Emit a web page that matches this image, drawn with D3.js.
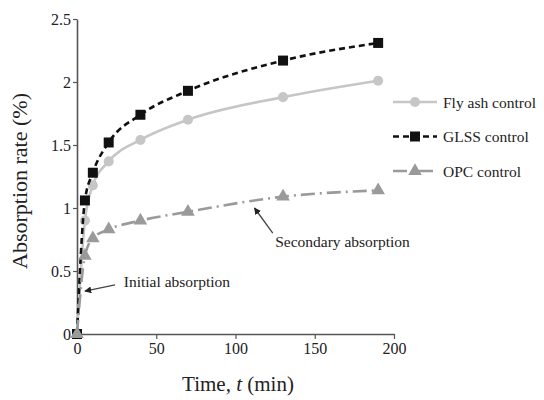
<!DOCTYPE html>
<meta charset="utf-8">
<style>
  body { margin: 0; background: #fff; }
  text { font-family: "Liberation Serif", "Times New Roman", serif; fill: #222; }
</style>
<svg id="chart" width="544" height="400"></svg>
<script src="https://d3js.org/d3.v7.min.js"></script>
<script>

// Data
var time = [0, 5, 10, 20, 40, 70, 130, 190];
var flyAsh = [0, 0.90, 1.18, 1.37, 1.54, 1.70, 1.88, 2.01];
var glss = [0, 1.06, 1.28, 1.52, 1.74, 1.93, 2.17, 2.31];
var opc = [0, 0.62, 0.76, 0.83, 0.90, 0.97, 1.09, 1.14];
var seriesNames = ["Fly ash control", "GLSS control", "OPC control"];
var xTicks = [0, 50, 100, 150, 200];
var yTicks = [0, 0.5, 1, 1.5, 2, 2.5];

var svg = d3.select("#chart");

var x = d3.scaleLinear().domain([0, 200]).range([77, 394]);
var y = d3.scaleLinear().domain([0, 2.5]).range([334, 19]);

var series = [
  { name: seriesNames[0], values: flyAsh, color: "#c6c6c6", dash: null, marker: "circle" },
  { name: seriesNames[1], values: glss, color: "#111", dash: "6,4", marker: "square" },
  { name: seriesNames[2], values: opc, color: "#9a9a9a", dash: "14,5,2,5", marker: "triangle" }
];

var symbols = {
  circle: d3.symbol().type(d3.symbolCircle).size(80),
  square: d3.symbol().type(d3.symbolSquare).size(100),
  triangle: d3.symbol().type(d3.symbolTriangle).size(80)
};

// axes
var xAxis = svg.append("g")
  .attr("transform", "translate(0," + y(0) + ")")
  .call(d3.axisBottom(x).tickValues(xTicks).tickSize(5).tickSizeOuter(0).tickPadding(4));
var yAxis = svg.append("g")
  .attr("transform", "translate(" + x(0) + ",0)")
  .call(d3.axisLeft(y).tickValues(yTicks).tickSize(4).tickSizeOuter(0).tickPadding(2)
    .tickFormat(function(d) { return d3.format("")(d); }));

[xAxis, yAxis].forEach(function(a) {
  a.select(".domain").attr("stroke", "#555").attr("stroke-width", 1.6);
  a.selectAll(".tick line").attr("stroke", "#555").attr("stroke-width", 1.2);
  a.selectAll(".tick text")
    .style("font-family", "Liberation Serif")
    .style("font-size", "16px")
    .attr("fill", "#222");
});

// lines
var line = d3.line()
  .x(function(d, i) { return x(time[i]); })
  .y(function(d) { return y(d); })
  .curve(d3.curveMonotoneX);

series.forEach(function(s) {
  svg.append("path")
    .datum(s.values)
    .attr("d", line)
    .attr("fill", "none")
    .attr("stroke", s.color)
    .attr("stroke-width", 2.6)
    .attr("stroke-dasharray", s.dash);

  svg.append("g")
    .selectAll("path")
    .data(s.values)
    .enter()
    .append("path")
      .attr("d", symbols[s.marker])
      .attr("transform", function(d, i) { return "translate(" + x(time[i]) + "," + y(d) + ")"; })
      .attr("fill", s.color);
});

// legend
var legend = svg.append("g").attr("transform", "translate(393,102)");
series.forEach(function(s, i) {
  var g = legend.append("g").attr("transform", "translate(0," + (i * 34.5) + ")");
  g.append("line")
    .attr("x1", 0).attr("x2", 44)
    .attr("stroke", s.color)
    .attr("stroke-width", 2.6)
    .attr("stroke-dasharray", s.dash);
  g.append("path")
    .attr("d", symbols[s.marker])
    .attr("transform", "translate(22,0)")
    .attr("fill", s.color);
  g.append("text")
    .attr("x", 50).attr("y", 5.5)
    .style("font-size", "15.5px")
    .text(s.name);
});

// annotations
var defs = svg.append("defs");
defs.append("marker")
  .attr("id", "head")
  .attr("viewBox", "0 0 10 10")
  .attr("refX", 9).attr("refY", 5)
  .attr("markerWidth", 7).attr("markerHeight", 7)
  .attr("markerUnits", "userSpaceOnUse")
  .attr("orient", "auto")
  .append("path")
    .attr("d", "M0,0 L10,5 L0,10 Z")
    .attr("fill", "#222");

var notes = [
  { text: "Initial absorption", from: [24, 0.39], to: [5, 0.34], at: [29.5, 0.37] },
  { text: "Secondary absorption", from: [123.5, 0.80], to: [112, 1.0], at: [125, 0.69] }
];

notes.forEach(function(n) {
  svg.append("line")
    .attr("x1", x(n.from[0])).attr("y1", y(n.from[1]))
    .attr("x2", x(n.to[0])).attr("y2", y(n.to[1]))
    .attr("stroke", "#444")
    .attr("stroke-width", 1.3)
    .attr("marker-end", "url(#head)");
  svg.append("text")
    .attr("x", x(n.at[0])).attr("y", y(n.at[1]))
    .style("font-size", "15.5px")
    .text(n.text);
});

// axis titles
svg.append("text")
  .attr("transform", "translate(27,181) rotate(-90)")
  .attr("text-anchor", "middle")
  .style("font-size", "22px")
  .text("Absorption rate (%)");

var xt = svg.append("text")
  .attr("x", 238).attr("y", 391)
  .attr("text-anchor", "middle")
  .style("font-size", "21px");
xt.append("tspan").text("Time, ");
xt.append("tspan").style("font-style", "italic").text("t");
xt.append("tspan").text(" (min)");

</script>
